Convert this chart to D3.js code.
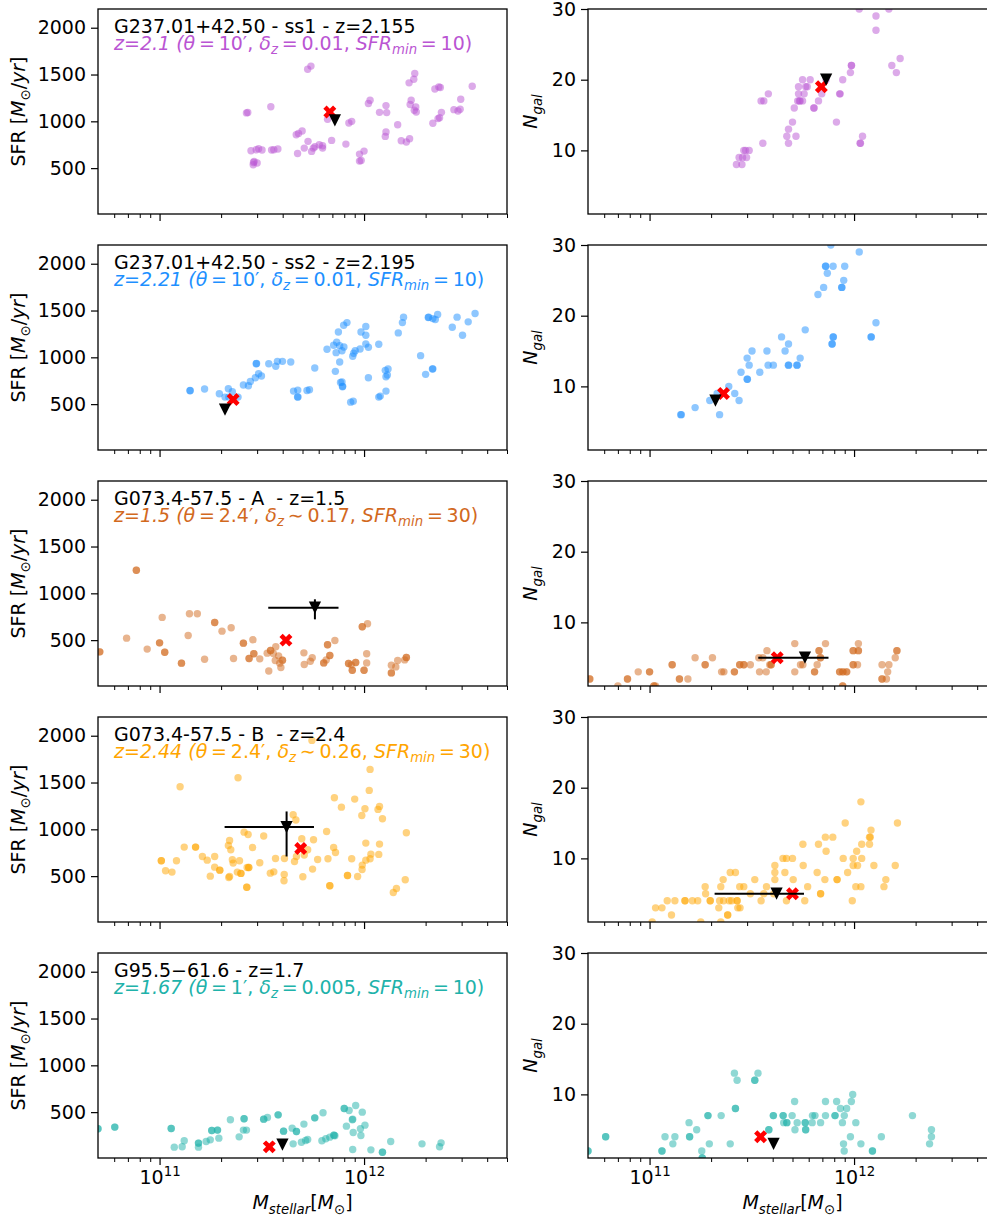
<!DOCTYPE html>
<html lang="en">
<head>
<meta charset="UTF-8">
<title>SFR and N_gal versus stellar mass</title>
<style>
  body { margin: 0; background: #fff; }
  svg { display: block; font-family: "DejaVu Sans", sans-serif; }
  text { white-space: pre; }
</style>
</head>
<body>
<script src="https://cdn.jsdelivr.net/npm/d3@7"></script>
<script>
// stellar masses are in units of 1e11 Msun; points listed twice sit on top of each other
const ss1Sfr = [[2.66,1090],[2.7,1095],[3.5,1155],[5.3,1557],[5.5,1590],[2.8,686],[2.97,696],[3.05,707],[2.87,536],[2.9,571],[2.88,560],[3.0,555],[3.17,693],[3.53,693],[3.62,696],[3.79,704],[4.66,857],[4.78,871],[4.98,896],[4.73,657],[5.1,714],[5.32,786],[5.54,679],[5.65,714],[5.75,729],[6.04,750],[6.27,714],[6.27,739],[6.63,1021],[6.94,796],[8.15,757],[8.43,982],[8.7,1000],[9.5,575],[9.68,582],[9.5,650],[10,682],[10.5,1190],[10.7,1225],[11.9,1096],[12.8,1168],[12.9,1093],[12.8,886],[12.7,839],[14.6,964],[15.2,793],[16.1,779],[16.7,814],[16.6,1411],[17.5,1450],[17.7,1511],[16.8,1179],[17.0,1225],[17.6,1118],[17.9,1154],[18.0,1100],[21.7,979],[22.2,1346],[23.2,1368],[23.6,1361],[23.0,1029],[23.4,1039],[23.9,1096],[27.5,1125],[28.8,1111],[29.5,1129],[29.7,1236],[33.8,1375]];
const ss1Ngal = [[2.66,8],[2.83,8],[2.74,9],[2.85,9],[2.98,9],[2.89,10],[2.95,10],[3.07,10],[3.51,17],[3.62,17],[3.58,11],[3.81,18],[4.69,12],[5.2,12],[4.78,13],[4.78,11],[5.0,14],[5.1,16],[5.3,17],[5.4,17],[5.45,17],[5.6,17],[5.35,18],[5.35,19],[5.6,20],[5.7,18],[5.8,19],[5.9,19],[6.1,20],[6.35,16],[6.38,16],[6.7,17],[6.95,18],[7.3,20],[8.2,14],[8.5,18],[8.55,18],[8.8,20],[9.6,21],[9.7,22],[9.72,22],[10.6,30],[10.7,11],[10.75,11],[11.0,12],[12.8,29],[12.8,27],[14.8,30],[15.3,22],[16.1,21],[16.8,23]];

const ss2Sfr = [[1.41,643],[1.41,645],[1.66,661],[1.96,611],[2.17,664],[2.27,632],[2.09,575],[2.18,575],[2.42,575],[2.57,704],[2.72,696],[2.78,743],[2.94,782],[3.05,825],[3.15,800],[2.97,932],[2.98,934],[3.42,932],[3.7,904],[3.77,957],[3.99,957],[4.38,950],[4.52,639],[4.74,650],[4.73,575],[4.75,577],[5.26,646],[5.41,654],[5.74,886],[6.59,1086],[7.1,1129],[7.35,1161],[7.49,1271],[7.95,1343],[8.25,1371],[7.24,850],[7.3,1050],[7.6,1125],[7.8,1071],[7.97,1111],[7.6,950],[7.67,732],[7.84,686],[7.86,690],[7.8,736],[8.8,1011],[9.05,1071],[8.9,1043],[9.56,1089],[9.66,1271],[10.2,1329],[10.2,1236],[10.2,1143],[10.5,1107],[10.5,782],[8.6,521],[8.85,532],[11.8,1139],[11.8,575],[12.0,586],[12.7,861],[12.8,793],[13.0,811],[13.1,875],[12.8,639],[14.7,1261],[15.4,1371],[15.6,1429],[18.9,1018],[20.0,818],[20.6,1425],[20.7,1428],[21.6,875],[21.7,877],[21.7,1414],[22.3,1404],[22.9,1457],[27.0,1321],[28.5,1429],[30.3,1236],[32.3,1379],[34.9,1468]];
const ss2Ngal = [[1.42,6],[1.43,6],[1.67,7],[1.97,8],[2.14,9],[2.2,6],[2.44,10],[2.61,9],[2.74,8],[2.8,12],[3.0,14],[3.0,11],[3.01,11],[3.07,13],[3.17,15],[3.46,12],[3.75,15],[3.8,13],[4.03,13],[4.42,17],[4.6,15],[4.78,16],[4.77,13],[4.79,13],[5.25,13],[5.27,13],[5.45,14],[5.77,18],[6.66,23],[7.1,24],[7.25,27],[7.27,27],[7.4,26],[7.7,30],[7.8,16],[7.82,16],[7.9,17],[7.92,17],[7.9,27],[8.7,24],[8.72,24],[8.9,25],[9.0,27],[10.6,29],[12.1,17],[12.15,17],[12.8,19]];

const aSfr = [[0.69,521],[0.87,404],[1.03,743],[1.38,550],[1.4,782],[1.53,782],[1.66,296],[2.02,596],[2.24,632],[2.3,304],[2.86,504],[3.09,300],[3.36,361],[3.42,171],[3.7,429],[3.6,357],[3.68,282],[3.82,332],[3.87,254],[3.92,207],[5.08,364],[5.1,239],[5.46,275],[5.58,311],[6.53,289],[7.2,496],[8.66,236],[10.4,675],[10.3,354],[10.3,257],[13.6,232],[14.3,214],[14.6,282],[15.8,289],
  [0.51,375],[0.51,375],[0.77,1246],[0.77,1246],[1.0,471],[1.0,471],[1.06,371],[1.06,371],[1.28,254],[1.28,254],[1.86,689],[1.86,689],[2.57,468],[2.57,468],[2.74,304],[2.74,304],[2.89,354],[2.89,354],[3.49,389],[3.49,389],[3.99,286],[3.99,286],[6.35,257],[6.35,257],[6.63,450],[6.63,450],[6.8,336],[6.8,336],[8.4,250],[8.4,250],[8.76,179],[8.76,179],[9.1,261],[9.1,261],[9.8,643],[9.8,643],[10.0,179],[10.0,179],[13.6,150],[13.6,150],[16.1,314],[16.1,314]];
const aNgal = [[0.70,1],[0.88,3],[1.54,2],[1.67,5],[2.03,5],[2.25,3],[2.31,3],[3.11,4],[3.42,5],[3.45,3],[3.58,5],[3.72,3],[3.75,6],[5.13,7],[5.13,3],[5.47,4],[5.62,4],[6.6,4],[7.25,7],[10.4,4],[10.5,7],[13.7,4],[14.4,2],[14.6,3],[14.8,4],[15.9,5],
  [0.51,2],[0.51,2],[0.78,2],[0.78,2],[1.0,3],[1.0,3],[1.05,1],[1.05,1],[1.07,1],[1.29,4],[1.29,4],[1.4,2],[1.4,2],[1.87,4],[1.87,4],[2.6,3],[2.6,3],[2.76,4],[2.76,4],[2.89,4],[2.89,4],[3.87,4],[3.93,4],[3.93,4],[6.41,3],[6.41,3],[6.74,6],[6.74,6],[6.85,5],[6.85,5],[8.5,3],[8.5,3],[8.82,3],[8.82,3],[9.2,3],[9.2,3],[8.8,1],[8.8,1],[9.9,6],[9.9,6],[9.9,4],[9.9,4],[10.5,6],[10.5,6],[13.7,2],[13.7,2],[16.2,6],[16.2,6]];

const bSfr = [[1.07,557],[1.15,543],[1.21,664],[1.26,1455],[1.32,810],[1.62,710],[1.71,671],[1.86,710],[1.86,596],[1.77,500],[2.17,828],[2.2,881],[2.23,782],[2.27,675],[2.29,639],[2.18,486],[2.2,496],[2.42,1551],[2.46,664],[2.4,543],[2.59,970],[2.71,945],[2.68,593],[2.85,806],[3.09,643],[3.23,928],[3.48,532],[3.62,546],[3.69,689],[4.07,518],[4.06,450],[4.08,689],[4.5,1156],[4.64,1099],[4.57,657],[4.67,710],[4.96,899],[5.02,493],[5.1,725],[5.3,782],[5.6,575],[5.66,888],[5.93,678],[5.56,1950],[6.56,977],[6.66,685],[7.1,806],[7.25,753],[7.16,1337],[7.75,1237],[8.7,685],[9.0,1323],[9.3,496],[9.75,1148],[9.78,571],[9.8,618],[10.1,1220],[10.2,853],[10.2,671],[10.6,1416],[10.7,1640],[10.8,735],[10.7,685],[11.7,1213],[11.9,1245],[11.9,842],[11.8,732],[12.3,1113],[13.9,325],[14.4,368],[15.9,461],[16.1,963],
  [1.02,664],[1.02,664],[1.5,810],[1.5,810],[1.97,564],[1.97,564],[2.5,529],[2.5,529],[2.73,593],[2.73,593],[2.67,382],[2.67,382],[6.8,397],[6.8,397],[8.3,507],[8.3,507]];
const bNgal = [[1.03,1],[1.07,3],[1.15,3],[1.22,4],[1.28,2],[1.33,4],[1.62,4],[1.72,4],[1.78,1],[1.87,6],[1.88,5],[2.18,3],[2.23,6],[2.29,7],[2.2,4],[2.3,4],[2.23,1],[2.48,8],[2.63,8],[2.52,4],[2.45,4],[2.7,3],[2.77,3],[2.76,6],[2.89,6],[3.11,5],[3.27,7],[3.51,4],[3.62,5],[3.73,6],[4.1,9],[4.1,8],[4.1,7],[4.05,5],[4.49,10],[4.59,8],[4.67,10],[4.67,4],[5.0,10],[5.04,7],[5.62,12],[5.64,9],[5.74,4],[5.93,6],[6.6,8],[6.7,12],[7.2,7],[7.24,13],[7.3,11],[7.87,13],[8.85,10],[9.05,15],[9.3,8],[9.8,4],[9.9,9],[9.9,10],[10.2,6],[10.3,11],[10.4,9],[10.8,6],[10.8,18],[10.9,12],[10.9,10],[11.9,13],[12.0,13],[11.9,12],[12.1,14],[12.5,9],[14.0,6],[14.3,7],[15.9,9],[16.3,15],
  [1.49,4],[1.49,4],[1.98,4],[1.98,4],[2.41,2],[2.41,2],[2.68,4],[2.68,4],[6.86,5],[6.86,5],[8.26,7],[8.26,7]];

const g95Sfr = [[1.18,126],[1.29,130],[1.32,194],[1.55,126],[1.69,186],[1.77,204],[1.95,222],[2.22,418],[2.45,236],[2.57,308],[2.66,308],[3.37,443],[4.5,161],[4.45,329],[4.94,179],[5.08,372],[5.18,197],[5.3,208],[6.22,194],[6.3,493],[6.5,215],[6.8,233],[7.2,247],[8.2,350],[8.45,518],[8.76,418],[8.8,101],[8.85,283],[9.1,571],[8.8,425],[9.6,322],[9.65,251],[9.8,500],[10.1,361],[10.8,97],[13.5,186],[19.2,161],[23.4,130],[23.8,172],
  [0.50,322],[0.50,322],[0.604,340],[0.604,340],[1.14,325],[1.14,325],[1.55,169],[1.55,169],[1.8,304],[1.8,304],[1.92,308],[1.92,308],[2.59,429],[2.59,429],[3.23,425],[3.23,425],[3.8,471],[3.8,471],[4.04,297],[4.04,297],[4.67,293],[4.67,293],[5.74,439],[5.74,439],[7.12,254],[7.12,254],[8.0,539],[8.0,539],[12.3,72],[12.3,72]];
const g95Ngal = [[1.19,4],[1.3,3],[1.33,4],[1.56,6],[1.7,5],[1.8,2],[1.96,3],[2.24,7],[2.48,3],[2.6,13],[2.68,12],[3.39,13],[4.53,6],[4.98,7],[5.12,9],[5.14,5],[5.27,6],[6.24,6],[6.26,7],[6.44,7],[6.86,6],[7.25,7],[7.25,9],[8.22,9],[8.58,8],[8.77,6],[8.88,3],[8.95,2],[8.96,7],[9.2,8],[9.6,4],[9.7,9],[9.85,10],[10.2,6],[10.8,3],[13.6,4],[19.3,7],[23.4,3],[23.9,5],[23.9,4],
  [0.50,2],[0.50,2],[0.61,4],[0.61,4],[1.15,2],[1.15,2],[1.57,4],[1.57,4],[1.81,1],[1.81,1],[1.93,7],[1.93,7],[2.63,8],[2.63,8],[3.27,12],[3.27,12],[3.83,5],[3.83,5],[4.03,7],[4.03,7],[4.5,7],[4.5,7],[4.69,6],[4.69,6],[5.77,6],[5.77,6],[5.8,5],[5.8,5],[8.07,7],[8.07,7],[12.3,2],[12.3,2]];

// red crosses and black triangles, one per row
const crossSfr = [[6.8,1100],[2.29,550],[4.15,500],[4.9,795],[3.44,129]];
const crossNgal = [[6.92,19],[2.3,9],[4.21,5],[5.0,5],[3.49,4]];
const triSfr = [[7.2,1010],[2.09,440],[5.75,846],[4.18,1024],[3.99,154]];
const triNgal = [[7.3,20],[2.1,8],[5.75,5],[4.18,5],[4.04,3]];
const triMassErr = [null, null, [3.4,7.5], [2.08,5.69], null];
const triSfrErr = [null, null, [722,936], [710,1191], null];

const fieldTitles = ["G237.01+42.50 - ss1 - z=2.155", "G237.01+42.50 - ss2 - z=2.195", "G073.4-57.5 - A  - z=1.5", "G073.4-57.5 - B  - z=2.4", "G95.5\u221261.6 - z=1.7"];
const zLabels = ["2.1", "2.21", "1.5", "2.44", "1.67"];
const thetaLabels = ["10", "10", "2.4", "2.4", "1"];
const deltaRel = ["=", "=", "\u223c", "\u223c", "="];
const deltaLabels = ["0.01", "0.01", "0.17", "0.26", "0.005"];
const sfrMinLabels = ["10", "10", "30", "30", "10"];
const rowColors = ["#ba55d3", "#1e90ff", "#d2691e", "#ffa500", "#20b2aa"];

const sfrTicks = [500, 1000, 1500, 2000];
const ngalTicks = [10, 20, 30];
const massMajor = [1e11, 1e12];
const massMinor = [6e10, 7e10, 8e10, 9e10, 2e11, 3e11, 4e11, 5e11, 6e11, 7e11, 8e11, 9e11, 2e12, 3e12, 4e12, 5e12];

const sfrSets = [ss1Sfr, ss2Sfr, aSfr, bSfr, g95Sfr];
const ngalSets = [ss1Ngal, ss2Ngal, aNgal, bNgal, g95Ngal];

// layout
const width = 987, height = 1221;
const fs = 19;
const panelW = 409, panelH = 205, rowTop = 9, rowStep = 236;
const colLeft = [98, 588];
const unit = 1e11;
const thin = "\u2009";

const svg = d3.select("body").append("svg")
    .attr("width", width)
    .attr("height", height);

// text with italic / subscript pieces, a bit like mathtext
function richText(sel, parts, size) {
    let shift = 0;
    parts.forEach(([t, kind]) => {
        const target = kind.startsWith("sub") ? size * 0.26 : (kind === "sup" ? -size * 0.42 : 0);
        const sp = sel.append("tspan").text(t).attr("dy", target - shift);
        shift = target;
        if (kind === "i" || kind === "sub") sp.attr("font-style", "italic");
        if (kind !== "n" && kind !== "i") sp.attr("font-size", size * 0.7);
    });
}

const triangleDown = {
    draw(ctx, size) {
        const s = Math.sqrt(size) / 2;
        ctx.moveTo(-s, -s);
        ctx.lineTo(s, -s);
        ctx.lineTo(0, s);
        ctx.closePath();
    }
};

function drawPanel(row, col) {
    const x0 = colLeft[col];
    const top = rowTop + row * rowStep;
    const isSfr = col === 0;
    const color = rowColors[row];

    const x = d3.scaleLog().domain([5e10, 5e12]).range([x0, x0 + panelW]);
    const y = d3.scaleLinear()
        .domain(isSfr ? [10, 2200] : [1, 30])
        .range([top + panelH, top]);

    const g = svg.append("g");
    const clipId = "clip-" + row + "-" + col;
    g.append("clipPath").attr("id", clipId)
        .append("rect")
        .attr("x", x0).attr("y", top)
        .attr("width", panelW).attr("height", panelH);

    const plot = g.append("g").attr("clip-path", "url(#" + clipId + ")");
    const pts = isSfr ? sfrSets[row] : ngalSets[row];

    plot.selectAll("circle")
        .data(pts)
        .enter()
        .append("circle")
        .attr("cx", d => x(d[0] * unit))
        .attr("cy", d => y(d[1]))
        .attr("r", 3.7)
        .attr("fill", color)
        .attr("fill-opacity", 0.5);

    // red cross
    const c = isSfr ? crossSfr[row] : crossNgal[row];
    plot.append("path")
        .attr("d", d3.symbol(d3.symbolCross, 105)())
        .attr("transform", `translate(${x(c[0] * unit)},${y(c[1])}) rotate(45)`)
        .attr("fill", "#ff0000");

    // black triangle with error bars
    const t = isSfr ? triSfr[row] : triNgal[row];
    const tx = x(t[0] * unit), ty = y(t[1]);
    if (triMassErr[row]) {
        plot.append("line")
            .attr("x1", x(triMassErr[row][0] * unit)).attr("x2", x(triMassErr[row][1] * unit))
            .attr("y1", ty).attr("y2", ty)
            .attr("stroke", "#000").attr("stroke-width", 2);
    }
    if (isSfr && triSfrErr[row]) {
        plot.append("line")
            .attr("x1", tx).attr("x2", tx)
            .attr("y1", y(triSfrErr[row][0])).attr("y2", y(triSfrErr[row][1]))
            .attr("stroke", "#000").attr("stroke-width", 2);
    }
    plot.append("path")
        .attr("d", d3.symbol(triangleDown, 150)())
        .attr("transform", `translate(${tx},${ty})`)
        .attr("fill", "#000");

    // axes
    const yAxis = d3.axisLeft(y)
        .tickValues(isSfr ? sfrTicks : ngalTicks)
        .tickFormat(d3.format("d"))
        .tickSize(7).tickPadding(5).tickSizeOuter(0);
    const ya = g.append("g").attr("transform", `translate(${x0},0)`).call(yAxis);
    ya.select(".domain").remove();
    ya.selectAll("text").attr("font-size", fs).attr("font-family", "DejaVu Sans").attr("fill", "#000");
    ya.selectAll("line").attr("stroke-width", 1.2);

    const bottom = top + panelH;
    const minor = g.append("g").attr("transform", `translate(0,${bottom})`)
        .call(d3.axisBottom(x).tickValues(massMinor).tickFormat("").tickSize(4).tickSizeOuter(0));
    minor.select(".domain").remove();
    minor.selectAll("line").attr("stroke-width", 1);

    const major = g.append("g").attr("transform", `translate(0,${bottom})`)
        .call(d3.axisBottom(x).tickValues(massMajor).tickFormat("").tickSize(7).tickSizeOuter(0));
    major.select(".domain").remove();
    major.selectAll("line").attr("stroke-width", 1.2);

    if (row === 4) {
        major.selectAll(".tick text")
            .attr("y", 26).attr("dy", 0)
            .attr("font-size", fs).attr("font-family", "DejaVu Sans").attr("fill", "#000")
            .each(function (d) {
                richText(d3.select(this), [["10", "n"], [String(Math.round(Math.log10(d))), "sup"]], fs);
            });

        const xl = g.append("text")
            .attr("x", x0 + panelW / 2).attr("y", bottom + 51)
            .attr("text-anchor", "middle").attr("font-size", fs);
        richText(xl, [["M", "i"], ["stellar", "sub"], ["[", "n"], ["M", "i"], ["\u2299", "subn"], ["]", "n"]], fs);
    }

    // frame
    g.append("rect")
        .attr("x", x0).attr("y", top)
        .attr("width", panelW).attr("height", panelH)
        .attr("fill", "none").attr("stroke", "#000").attr("stroke-width", 1.3);

    // y label
    const yl = g.append("text")
        .attr("transform", `translate(${x0 - (isSfr ? 73 : 51)},${top + panelH / 2}) rotate(-90)`)
        .attr("text-anchor", "middle").attr("font-size", fs);
    if (isSfr) {
        richText(yl, [["SFR [", "n"], ["M", "i"], ["\u2299", "subn"], ["/", "n"], ["yr", "i"], ["]", "n"]], fs);
    } else {
        richText(yl, [["N", "i"], ["gal", "sub"]], fs);
    }

    // titles inside the left panels
    if (isSfr) {
        g.append("text")
            .attr("x", x0 + 16).attr("y", top + 24)
            .attr("font-size", fs).attr("fill", "#000")
            .text(fieldTitles[row]);
        const sub = g.append("text")
            .attr("x", x0 + 16).attr("y", top + 40.5)
            .attr("font-size", fs).attr("fill", color);
        richText(sub, [
            ["z=" + zLabels[row] + " (", "i"], ["\u03b8", "i"], [thin + "=" + thin + thetaLabels[row] + "\u2032, ", "n"],
            ["\u03b4", "i"], ["z", "sub"], [thin + deltaRel[row] + thin + deltaLabels[row] + ", ", "n"],
            ["SFR", "i"], ["min", "sub"], [thin + "=" + thin + sfrMinLabels[row] + ")", "n"]
        ], fs);
    }
}

for (let r = 0; r < 5; r++) {
    drawPanel(r, 0);
    drawPanel(r, 1);
}
</script>
</body>
</html>
